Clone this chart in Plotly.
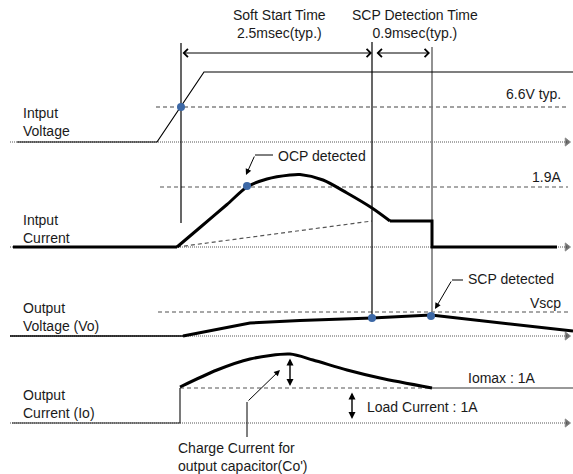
"""
Soft start / OCP / SCP timing diagram - Plotly
"""

import plotly.graph_objects as go

FONT = "'Liberation Sans', Arial, sans-serif"
DOT_COLOR = '#3c68a6'

# time marks (horizontal position) and row baselines (vertical position)
t_marks = [181, 372, 432]          # soft start begin, soft start end, SCP end
row_base = [142, 247, 336, 423]    # Vin, Iin, Vo, Io
axis_x = [10, 567]

# Input voltage
vin_t = [17, 157, 204, 573]
vin_v = [142, 142, 72, 72]
vin_ref = 107                      # 6.6V typ.

# Input current
iin_flat_t = [13, 177]
iin_flat_v = [247, 247]
iin_curve_t = [177, 200, 227, 247, 267, 290, 300, 323, 347, 372, 390]
iin_curve_v = [247, 227.5, 204.5, 187, 179, 175, 174.5, 180, 193, 208, 221]
iin_tail_t = [390, 432, 432, 557]
iin_tail_v = [221, 221, 247, 247]
iin_ref = 187                      # 1.9A
iin_load_t = [177, 372]
iin_load_v = [247, 221]

# Output voltage
vo_pre_t = [10, 183]
vo_pre_v = [336, 336]
vo_t = [183, 250, 300, 372, 431, 573]
vo_v = [336, 323, 320.5, 318, 315, 331]
vo_ref = 312                       # Vscp

# Output current
io_pre_t = [12, 180, 180]
io_pre_v = [423, 423, 388]
io_t = [180, 217, 250, 290, 313, 347, 380, 432]
io_v = [387, 370, 359, 354, 360, 370, 378, 388]
io_load = 388                      # Iomax : 1A

# detection points
dot_t = [181, 247, 372, 431]
dot_v = [107, 186, 318, 316]


def line(fig, x, y, color='black', width=1.0, dash=None, shape='linear'):
    fig.add_trace(go.Scatter(
        x=x, y=y, mode='lines',
        line=dict(color=color, width=width, dash=dash, shape=shape, smoothing=0.8),
        hoverinfo='skip'
    ))


def text(fig, x, y, s, xanchor='left', align='left'):
    fig.add_annotation(
        x=x, y=y, text=s, showarrow=False, xref='x', yref='y',
        xanchor=xanchor, yanchor='middle', align=align,
        font=dict(size=14, family=FONT, color='#1a1a1a')
    )


def arrow(fig, x0, y0, x1, y1, head=2, size=1.0, width=1.0, both=False):
    fig.add_annotation(
        x=x1, y=y1, ax=x0, ay=y0, xref='x', yref='y', axref='x', ayref='y',
        text='', showarrow=True, arrowhead=head, startarrowhead=head,
        arrowsize=size, startarrowsize=size, arrowwidth=width,
        arrowside='end+start' if both else 'end',
        standoff=0, startstandoff=0, arrowcolor='black'
    )


fig = go.Figure()

# dotted baselines with arrows
for yb in row_base:
    fig.add_trace(go.Scatter(
        x=[axis_x[0], axis_x[1]], y=[yb, yb], mode='lines+markers',
        line=dict(color='#555555', width=1, dash='1px,1px'),
        marker=dict(symbol='triangle-right', size=[0, 7], color='#333333'),
        hoverinfo='skip'
    ))

# dashed reference levels
dash = '4px,3px'
line(fig, [156, 568], [vin_ref, vin_ref], '#444444', 1.2, dash)
line(fig, [160, 568], [iin_ref, iin_ref], '#555555', 1.2, dash)
line(fig, [158, 568], [vo_ref, vo_ref], '#8a8a8a', 1.6, dash)
line(fig, iin_load_t, iin_load_v, '#555555', 1.2, dash)
line(fig, [180, 432], [io_load, io_load], '#555555', 1.2, dash)
line(fig, [432, 573], [io_load, io_load], '#333333', 1.0)

# time marker lines
line(fig, [t_marks[0], t_marks[0]], [43, 223], 'black', 1.2)
line(fig, [t_marks[1], t_marks[1]], [42, 318], 'black', 1.2)
line(fig, [t_marks[2], t_marks[2]], [47, 312], '#777777', 1.6)

# waveforms
line(fig, vin_t, vin_v, 'black', 1.2)
line(fig, iin_flat_t, iin_flat_v, 'black', 3)
line(fig, iin_curve_t, iin_curve_v, 'black', 3, shape='spline')
line(fig, iin_tail_t, iin_tail_v, 'black', 3)
line(fig, vo_pre_t, vo_pre_v, 'black', 1.5)
line(fig, vo_t, vo_v, 'black', 3)
line(fig, io_pre_t, io_pre_v, '#222222', 1.2)
line(fig, io_t, io_v, 'black', 3, shape='spline')

# leader lines
line(fig, [273, 255], [155, 155], 'black', 1)
line(fig, [463, 452], [280, 280], 'black', 1)
line(fig, [247, 247], [437, 402], 'black', 1)

# detection dots
fig.add_trace(go.Scatter(
    x=dot_t, y=dot_v, mode='markers',
    marker=dict(size=8, color=DOT_COLOR), hoverinfo='skip'
))

# arrows
arrow(fig, t_marks[0], 53, t_marks[1], 53, head=4, size=1.6, both=True)
arrow(fig, 375, 53, 430, 53, head=4, size=1.6, both=True)
arrow(fig, 255, 155, 246, 175, head=2, size=1.2)
arrow(fig, 452, 280, 435, 309, head=2, size=1.2)
arrow(fig, 247, 402, 280, 370, head=2, size=1.2)
arrow(fig, 290, 357, 290, 386, head=2, size=1.0, width=1.4, both=True)
arrow(fig, 352, 391, 352, 419, head=2, size=1.0, width=1.4, both=True)

# labels
text(fig, 279, 24, 'Soft Start Time<br>2.5msec(typ.)', 'center', 'center')
text(fig, 415, 24, 'SCP Detection Time<br>0.9msec(typ.)', 'center', 'center')
text(fig, 21, 122, 'Intput<br>Voltage')
text(fig, 21, 229, 'Intput<br>Current')
text(fig, 21, 317, 'Output<br>Voltage (Vo)')
text(fig, 21, 404, 'Output<br>Current (Io)')
text(fig, 563, 94, '6.6V typ.', 'right', 'right')
text(fig, 563, 177, '1.9A', 'right', 'right')
text(fig, 563, 303, 'Vscp', 'right', 'right')
text(fig, 276, 156, 'OCP detected')
text(fig, 466, 279, 'SCP detected')
text(fig, 466, 378, 'Iomax : 1A')
text(fig, 365, 407, 'Load Current : 1A')
text(fig, 176, 457, "Charge Current for<br>output capacitor(Co')")

fig.update_layout(
    width=573,
    height=474,
    margin=dict(l=0, r=0, t=0, b=0),
    showlegend=False,
    plot_bgcolor='white',
    paper_bgcolor='white',
    xaxis=dict(range=[0, 573], visible=False, fixedrange=True),
    yaxis=dict(range=[474, 0], visible=False, fixedrange=True),
)

# 去掉页面默认的 8px 边距, 让图与窗口对齐
fig.write_html("out.html", config={'displayModeBar': False},
               post_script="document.body.style.margin = '0';")
